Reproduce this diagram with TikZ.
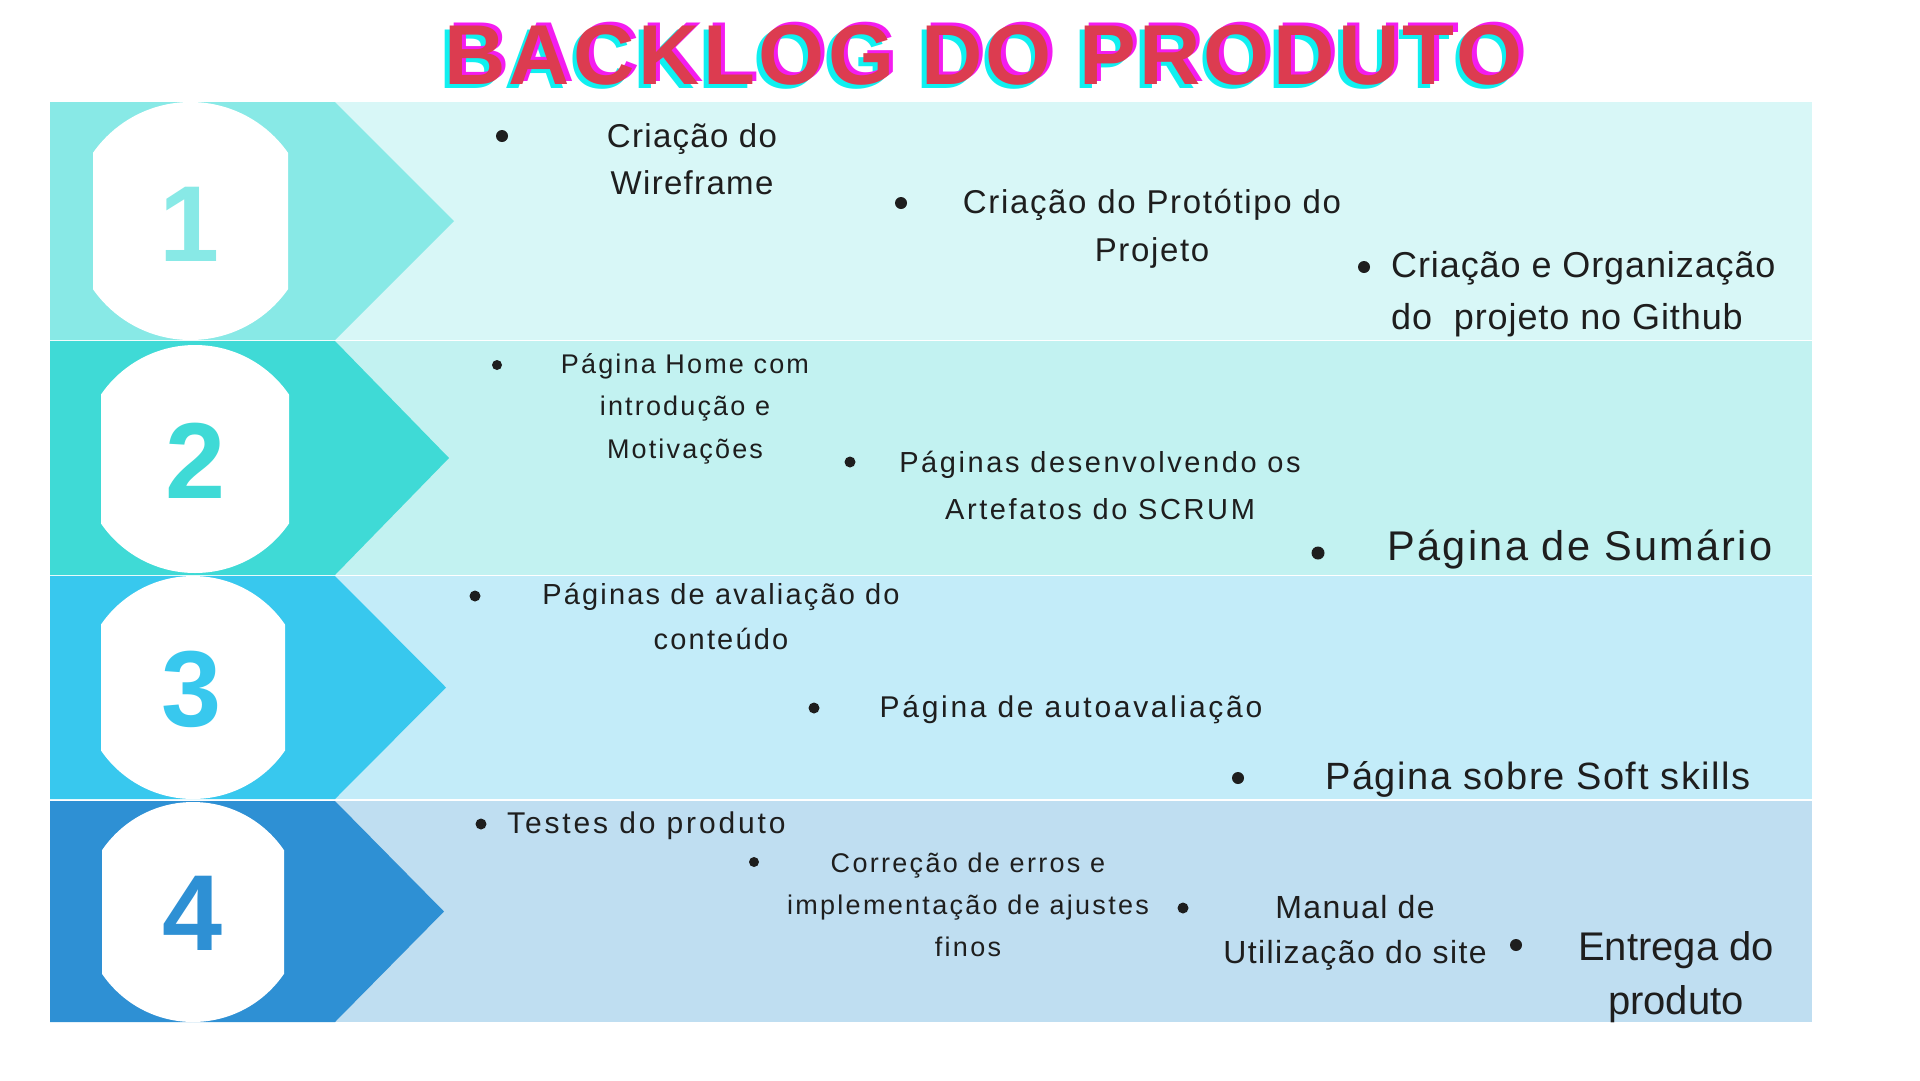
\documentclass[tikz,border=0pt]{standalone}
\usepackage{fontspec}
\setmainfont{Liberation Sans}
\definecolor{bAd}{HTML}{88E9E6}\definecolor{bAl}{HTML}{D8F7F7}
\definecolor{bBd}{HTML}{3FDAD6}\definecolor{bBl}{HTML}{C2F2F1}
\definecolor{bCd}{HTML}{38C8EE}\definecolor{bCl}{HTML}{C3ECF9}
\definecolor{bDd}{HTML}{2E90D4}\definecolor{bDl}{HTML}{BFDEF1}
\definecolor{textc}{HTML}{1E1E1E}
\definecolor{tred}{HTML}{DC3C50}
\definecolor{tmag}{HTML}{F41CF0}
\definecolor{tcya}{HTML}{10F0F0}
\newcommand\fsz[3]{\fontsize{#1}{#2}\selectfont\addfontfeature{LetterSpace=#3}}
\tikzset{
  item/.style={text=textc, inner sep=0pt, anchor=base, align=center},
  itemleft/.style={text=textc, inner sep=0pt, anchor=base west, align=left},
  bulletdot/.style={circle, fill=textc, inner sep=0pt, minimum size=#1},
  numtxt/.style={inner sep=0pt, anchor=base, font=\fontsize{108}{110}\selectfont\bfseries},
  titletxt/.style={inner sep=0pt, anchor=base, font=\fontsize{85}{90}\selectfont\bfseries\addfontfeature{LetterSpace=4}}
}
\begin{document}
\begin{tikzpicture}[x=1pt,y=-1pt]
\fill[white] (0,0) rectangle (1920,1080);
\useasboundingbox (0,0) rectangle (1920,1080);

% title (with offset colour shadows)
\node[titletxt, text=tcya] (titleC) at (979,88) {BACKLOG DO PRODUTO};
\node[titletxt, text=tmag] (titleM) at (988,81) {BACKLOG DO PRODUTO};
\node[titletxt, text=tred] (title) at (983.5,84) {BACKLOG DO PRODUTO};

% band 1
\fill[bAl] (335,102) rectangle (1812,340);
\fill[bAd] (50,102) -- (335,102) -- (454,221) -- (335,340) -- (50,340) -- cycle;
\begin{scope}\clip (93,102) rectangle (288,340);
  \fill[white] (190.5,221) circle[radius=119pt];\end{scope}
\node[numtxt, text=bAd] (n1) at (190,261) {1};

% band 2
\fill[bBl] (335,341) rectangle (1812,575);
\fill[bBd] (50,341) -- (335,341) -- (449,458) -- (335,575) -- (50,575) -- cycle;
\begin{scope}\clip (101,341) rectangle (289,575);
  \fill[white] (195,459) circle[radius=114pt];\end{scope}
\node[numtxt, text=bBd] (n2) at (196,498) {2};

% band 3
\fill[bCl] (335,576) rectangle (1812,799);
\fill[bCd] (50,576) -- (335,576) -- (446,687.5) -- (335,799) -- (50,799) -- cycle;
\begin{scope}\clip (101,576) rectangle (285,799);
  \fill[white] (193,687.5) circle[radius=111.5pt];\end{scope}
\node[numtxt, text=bCd] (n3) at (192,726) {3};

% band 4
\fill[bDl] (335,801) rectangle (1812,1022);
\fill[bDd] (50,801) -- (335,801) -- (444,911.5) -- (335,1022) -- (50,1022) -- cycle;
\begin{scope}\clip (102,801) rectangle (284,1022);
  \fill[white] (193,912) circle[radius=110pt];\end{scope}
\node[numtxt, text=bDd] (n4) at (193,950) {4};

% band 1 items (multi-line nodes anchored at the last line's baseline)
\node[bulletdot=12pt] (d1a) at (502,136) {};
\node[item, font=\fsz{33}{47}{4}] (t1a) at (692,194) {Criação do\\Wireframe};
\node[bulletdot=12pt] (d1b) at (901,203) {};
\node[item, font=\fsz{33}{48}{5}] (t1b) at (1152,261) {Criação do Protótipo do\\Projeto};
\node[bulletdot=12pt] (d1c) at (1364,267) {};
\node[itemleft, font=\fsz{36}{52}{2.5}] (t1c) at (1391,329) {Criação e Organização\\do\ \ projeto no Github};

% band 2 items
\node[bulletdot=10pt] (d2a) at (497,365) {};
\node[item, font=\fsz{27}{42.5}{8}] (t2a) at (685,458) {Página Home com\\introdução e\\Motivações};
\node[bulletdot=11pt] (d2b) at (850,462) {};
\node[item, font=\fsz{29}{47}{9}] (t2b) at (1100,519) {Páginas desenvolvendo os\\Artefatos do SCRUM};
\node[bulletdot=13pt] (d2c) at (1318,553) {};
\node[item, font=\fsz{41.5}{48}{5.5}] (t2c) at (1580,560) {Página de Sumário};

% band 3 items
\node[bulletdot=11pt] (d3a) at (475,596) {};
\node[item, font=\fsz{29}{45}{7.5}] (t3a) at (721,649) {Páginas de avaliação do\\conteúdo};
\node[bulletdot=11pt] (d3b) at (814,708) {};
\node[item, font=\fsz{30}{45}{9}] (t3b) at (1071,717) {Página de autoavaliação};
\node[bulletdot=12pt] (d3c) at (1238,778) {};
\node[item, font=\fsz{38}{45}{4}] (t3c) at (1538,789) {Página sobre Soft skills};

% band 4 items
\node[bulletdot=11pt] (d4a) at (481,824) {};
\node[itemleft, font=\fsz{30}{45}{9.5}] (t4a) at (507,833) {Testes do produto};
\node[bulletdot=10pt] (d4b) at (754,862) {};
\node[item, font=\fsz{27}{42}{8.5}] (t4b) at (968,956) {Correção de erros e\\implementação de ajustes\\finos};
\node[bulletdot=11pt] (d4c) at (1183,908) {};
\node[item, font=\fsz{32}{45}{4.5}] (t4c) at (1355,963) {Manual de\\Utilização do site};
\node[bulletdot=12pt] (d4d) at (1516,945) {};
\node[item, font=\fsz{40}{54}{0}] (t4d) at (1676,1014) {Entrega do\\produto};
\end{tikzpicture}
\end{document}
